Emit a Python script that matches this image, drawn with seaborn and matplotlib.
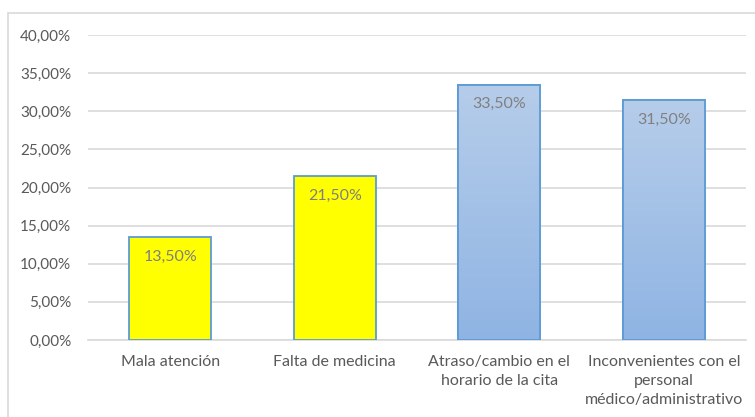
import numpy as np
import pandas as pd
import seaborn as sns
import matplotlib.pyplot as plt
from matplotlib.patches import Rectangle
from matplotlib.ticker import FuncFormatter

categorias = ["Mala atención", "Falta de medicina",
              "Atraso/cambio en el\nhorario de la cita",
              "Inconvenientes con el\npersonal\nmédico/administrativo"]
valores = [0.135, 0.215, 0.335, 0.315]
colores = ["#ffff00", "#ffff00", "#a9c4e6", "#a9c4e6"]

df = pd.DataFrame({"cat": categorias, "val": valores})

sns.set_style("white")
plt.rcParams['font.family'] = ['Lato', 'DejaVu Sans']

fig = plt.figure(figsize=(7.55, 4.17), dpi=100)
ax = fig.add_axes([88/755, 77/417, (746-88)/755, (382-77)/417])

# outer chart border (cropped on right/bottom)
fig.patches.append(Rectangle((8/755, -0.1), 1.2, (417-13)/417 + 0.1,
                             transform=fig.transFigure, fill=False,
                             edgecolor="#d9d9d9", lw=1.2))

sns.barplot(data=df, x="cat", y="val", hue="cat", palette=colores,
            legend=False, width=0.5, edgecolor="#5b9bd5", linewidth=1.3,
            saturation=1, ax=ax, zorder=3)

# gradient for the blue bars
grad = np.linspace(0, 1, 256).reshape(-1, 1)
cmap = sns.blend_palette(["#8fb4e3", "#b6cdea"], as_cmap=True)
for i, p in enumerate(ax.patches):
    if i >= 2:
        x0, y0 = p.get_x(), p.get_y()
        w, h = p.get_width(), p.get_height()
        im = ax.imshow(grad, extent=[x0, x0 + w, y0, y0 + h], origin="lower",
                       cmap=cmap, aspect="auto", zorder=3.5)
        im.set_clip_path(p)
        ax.add_patch(Rectangle((x0, y0), w, h, fill=False,
                               edgecolor="#5b9bd5", lw=1.3, zorder=4))

for i, v in enumerate(valores):
    ax.text(i, v - 0.026, f"{v*100:.2f}%".replace(".", ","), ha="center",
            va="center", fontsize=11.5, color="#808080", zorder=5)

ax.set_xlim(-0.5, 3.5)
ax.set_ylim(0, 0.40)
ax.set_yticks(np.arange(0, 0.401, 0.05))
ax.yaxis.set_major_formatter(FuncFormatter(lambda y, _: f"{y*100:.2f}%".replace(".", ",")))
ax.grid(axis="y", color="#d9d9d9", lw=1.2, zorder=0)
ax.set_axisbelow(True)
for s in ["top", "right", "left"]:
    ax.spines[s].set_visible(False)
ax.spines["bottom"].set_color("#d9d9d9")
ax.spines["bottom"].set_linewidth(1.2)
ax.tick_params(axis="y", length=0, pad=12, labelsize=11, labelcolor="#595959")
ax.tick_params(axis="x", length=0, pad=11, labelsize=11.5, labelcolor="#595959")
for t in ax.get_xticklabels():
    t.set_linespacing(1.45)
ax.set_xlabel("")
ax.set_ylabel("")

fig.savefig("out.png", dpi=100)
